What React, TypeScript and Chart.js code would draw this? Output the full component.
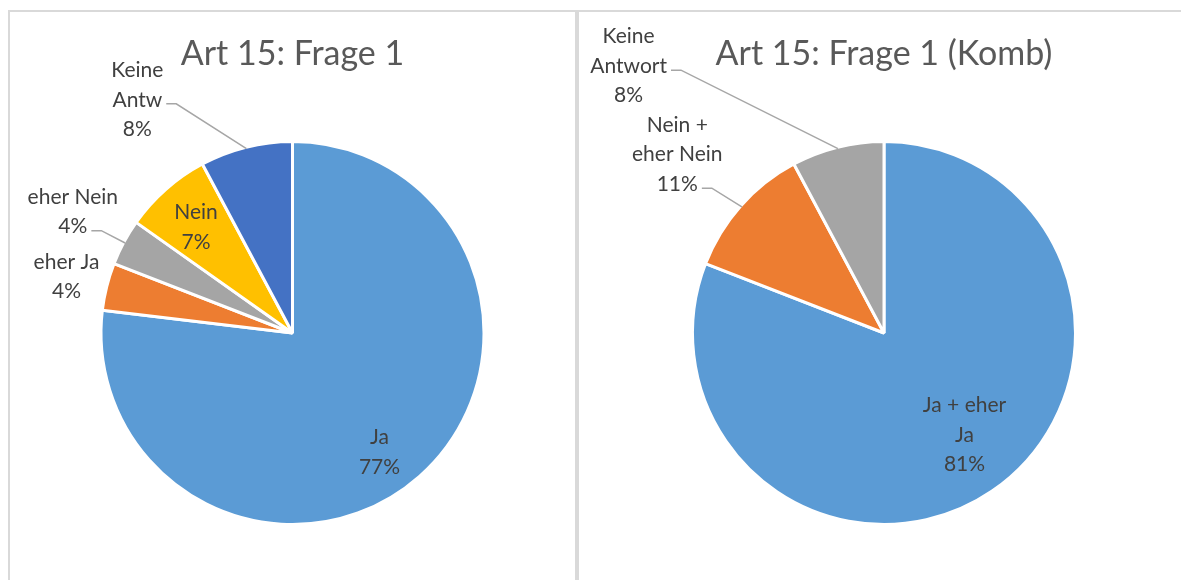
import { useEffect, useRef } from "react";
import { Chart, registerables } from "chart.js";

Chart.register(...registerables);

// ---------- data ----------
const detailTitle = "Art 15: Frage 1";
const detailCategories = ["Ja", "eher Ja", "eher Nein", "Nein", "Keine Antw"];
const detailLabelLines = [["Ja"], ["eher Ja"], ["eher Nein"], ["Nein"], ["Keine", "Antw"]];
const detailValues = [76.9, 4.0, 3.9, 7.4, 7.8];

const combinedTitle = "Art 15: Frage 1 (Komb)";
const combinedCategories = ["Ja + eher Ja", "Nein + eher Nein", "Keine Antwort"];
const combinedLabelLines = [["Ja + eher", "Ja"], ["Nein +", "eher Nein"], ["Keine", "Antwort"]];
const combinedValues = [80.9, 11.3, 7.8];

// ---------- styles ----------
const detailColors = ["#5B9BD5", "#ED7D31", "#A5A5A5", "#FFC000", "#4472C4"];
const combinedColors = ["#5B9BD5", "#ED7D31", "#A5A5A5"];

type Placement = { shift: number; dist: number; leader: number | null };

const detailPlacement: Placement[] = [
  { shift: 5.4, dist: 0.776, leader: null },
  { shift: 0, dist: 1.226, leader: null },
  { shift: 0.6, dist: 1.32, leader: 1 },
  { shift: -1, dist: 0.753, leader: null },
  { shift: -19.6, dist: 1.474, leader: 1 },
];
const combinedPlacement: Placement[] = [
  { shift: -3.9, dist: 0.684, leader: null },
  { shift: -0.8, dist: 1.437, leader: 2 },
  { shift: -29.7, dist: 1.944, leader: 1 },
];

const FONT = "Lato, 'Open Sans', sans-serif";
const LABEL_SIZE = 21;
const LABEL_LINE = 29.5;
const TITLE_SIZE = 34;
const BORDER = 3;
const TEXT_COLOR = "#404040";
const LEADER_COLOR = "#A6A6A6";

function makeLabelPlugin(lines: string[][], placement: Placement[]) {
  return {
    id: "pieLabels",
    afterDatasetsDraw(chart: any) {
      const ctx: CanvasRenderingContext2D = chart.ctx;
      const meta = chart.getDatasetMeta(0);
      const data = chart.data.datasets[0].data as number[];
      ctx.save();
      ctx.font = `${LABEL_SIZE}px ${FONT}`;
      ctx.textAlign = "center";
      ctx.textBaseline = "middle";
      meta.data.forEach((arc: any, i: number) => {
        const { x, y, startAngle, endAngle, outerRadius } = arc.getProps(
          ["x", "y", "startAngle", "endAngle", "outerRadius"],
          true
        );
        const r = outerRadius - BORDER / 2;
        const mid = (startAngle + endAngle) / 2;
        const p = placement[i];
        const a = mid + (p.shift * Math.PI) / 180;
        const cx = x + Math.cos(a) * r * p.dist;
        const cy = y + Math.sin(a) * r * p.dist;
        const textLines = [...lines[i], Math.round(data[i]) + "%"];
        const n = textLines.length;
        textLines.forEach((t, k) => {
          ctx.fillStyle = TEXT_COLOR;
          ctx.fillText(t, cx, cy + (k - (n - 1) / 2) * LABEL_LINE);
        });
        if (p.leader !== null) {
          const ex = x + Math.cos(mid) * r;
          const ey = y + Math.sin(mid) * r;
          const t = textLines[p.leader];
          const w = ctx.measureText(t).width;
          const ly = cy + (p.leader - (n - 1) / 2) * LABEL_LINE + 4;
          const dir = ex > cx ? 1 : -1;
          const sx = cx + dir * (w / 2 + 4);
          const hx = sx + dir * 10;
          ctx.beginPath();
          ctx.strokeStyle = LEADER_COLOR;
          ctx.lineWidth = 1.5;
          ctx.moveTo(sx, ly);
          ctx.lineTo(hx, ly);
          ctx.lineTo(ex, ey);
          ctx.stroke();
        }
      });
      ctx.restore();
    },
  };
}

type PieProps = {
  title: string;
  categories: string[];
  values: number[];
  colors: string[];
  lines: string[][];
  placement: Placement[];
  width: number;
  height: number;
};

function PieChart({ title, categories, values, colors, lines, placement, width, height }: PieProps) {
  const ref = useRef<HTMLCanvasElement | null>(null);
  useEffect(() => {
    if (!ref.current) return;
    const titleMid = 42;
    const areaTop = 128;
    const areaSize = 386;
    const titleLH = TITLE_SIZE * 1.2;
    const padTop = titleMid - titleLH / 2;
    const padBottom = areaTop - padTop - titleLH;
    const chart = new Chart(ref.current, {
      type: "pie",
      data: {
        labels: categories,
        datasets: [
          {
            data: values,
            backgroundColor: colors,
            borderColor: "#FFFFFF",
            borderWidth: BORDER,
            hoverBorderWidth: BORDER,
            hoverOffset: 0,
            offset: 0,
            borderAlign: "center",
          },
        ],
      },
      options: {
        responsive: false,
        maintainAspectRatio: false,
        animation: false,
        events: [],
        layout: { padding: { top: 0, left: 0, right: 0, bottom: height - areaTop - areaSize } },
        plugins: {
          legend: { display: false },
          tooltip: { enabled: false },
          title: {
            display: true,
            text: title,
            color: "#595959",
            font: { family: FONT, size: TITLE_SIZE, weight: "normal", lineHeight: 1.2 },
            padding: { top: padTop, bottom: padBottom },
          },
        },
      },
      plugins: [makeLabelPlugin(lines, placement)],
    } as any);
    return () => chart.destroy();
  }, []);
  return (
    <canvas
      ref={ref}
      width={width}
      height={height}
      style={{ position: "absolute", left: 0, top: 0, width, height }}
    />
  );
}

export default function App() {
  const borderCol = "#D9D9D9";
  return (
    <div
      style={{
        position: "fixed",
        left: 0,
        top: 0,
        width: 1181,
        height: 580,
        overflow: "hidden",
        background: "#FFFFFF",
      }}
    >
      <div
        style={{
          position: "absolute",
          left: 8,
          top: 10,
          width: 569,
          height: 600,
          boxSizing: "border-box",
          borderTop: `2px solid ${borderCol}`,
          borderLeft: `2px solid ${borderCol}`,
          borderRight: `2px solid ${borderCol}`,
        }}
      >
        <PieChart
          title={detailTitle}
          categories={detailCategories}
          values={detailValues}
          colors={detailColors}
          lines={detailLabelLines}
          placement={detailPlacement}
          width={565}
          height={568}
        />
      </div>
      <div
        style={{
          position: "absolute",
          left: 577,
          top: 10,
          width: 640,
          height: 600,
          boxSizing: "border-box",
          borderTop: `2px solid ${borderCol}`,
          borderLeft: `2px solid ${borderCol}`,
        }}
      >
        <PieChart
          title={combinedTitle}
          categories={combinedCategories}
          values={combinedValues}
          colors={combinedColors}
          lines={combinedLabelLines}
          placement={combinedPlacement}
          width={610}
          height={568}
        />
      </div>
    </div>
  );
}
